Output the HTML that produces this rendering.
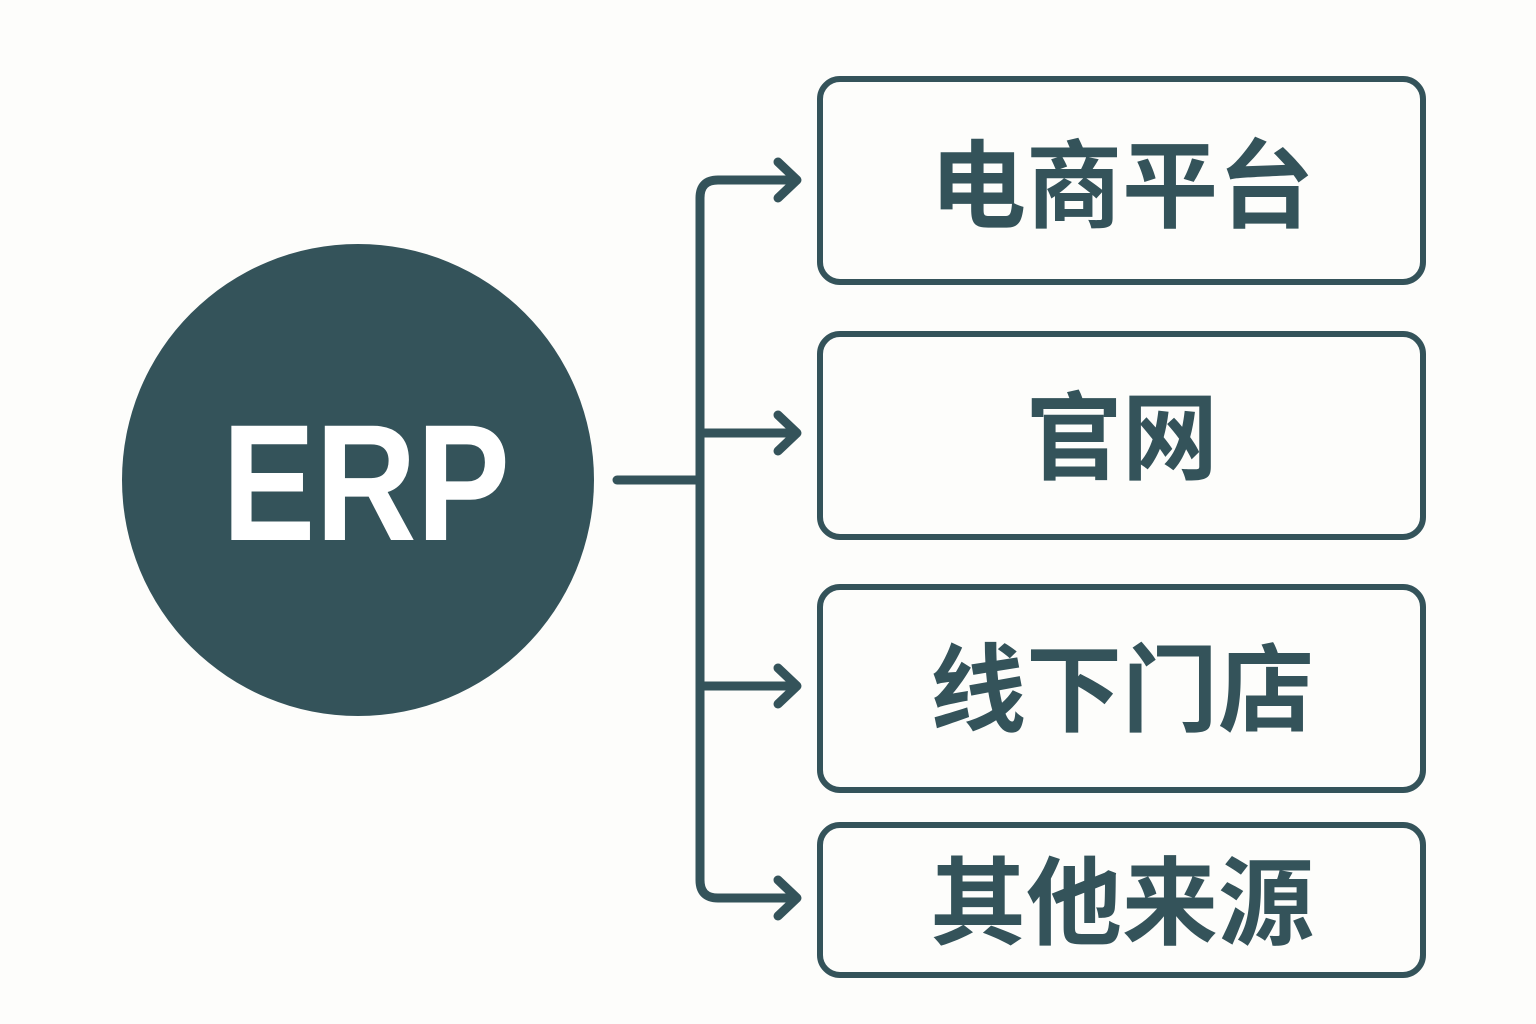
<!DOCTYPE html>
<html><head><meta charset="utf-8"><style>
html,body{margin:0;padding:0;background:#fdfdfb;}
svg{display:block}
</style></head><body>
<svg width="1536" height="1024" viewBox="0 0 1536 1024" xmlns="http://www.w3.org/2000/svg">
<rect width="1536" height="1024" fill="#fdfdfb"/>
<circle cx="358" cy="480" r="236" fill="#34535a"/>
<text x="222" y="540" textLength="288" lengthAdjust="spacingAndGlyphs" font-family="Liberation Sans, sans-serif" font-weight="bold" font-size="166" fill="#fff">ERP</text>
<g fill="none" stroke="#34535a" stroke-width="9" stroke-linecap="round" stroke-linejoin="round">
<path d="M617 480 H700"/>
<path d="M795 180 H718 Q700 180 700 198 V880 Q700 898 718 898 H795"/>
<path d="M700 433 H795"/>
<path d="M700 686 H795"/>
<path d="M778 162 L797 180 L778 198"/>
<path d="M778 415 L797 433 L778 451"/>
<path d="M778 668 L797 686 L778 704"/>
<path d="M778 880 L797 898 L778 916"/>
</g>
<g fill="none" stroke="#34535a" stroke-width="6">
<rect x="820" y="79" width="603" height="203" rx="20"/>
<rect x="820" y="334" width="603" height="203" rx="20"/>
<rect x="820" y="587" width="603" height="203" rx="20"/>
<rect x="820" y="825" width="603" height="150" rx="20"/>
</g>
<g font-family="Liberation Sans, Noto Sans CJK SC, sans-serif" font-weight="bold" font-size="96" fill="#34535a" text-anchor="middle">
<text x="1122" y="220">电商平台</text>
<text x="1122" y="472">官网</text>
<text x="1122" y="724">线下门店</text>
<text x="1122" y="937">其他来源</text>
</g>
</svg>
</body></html>
